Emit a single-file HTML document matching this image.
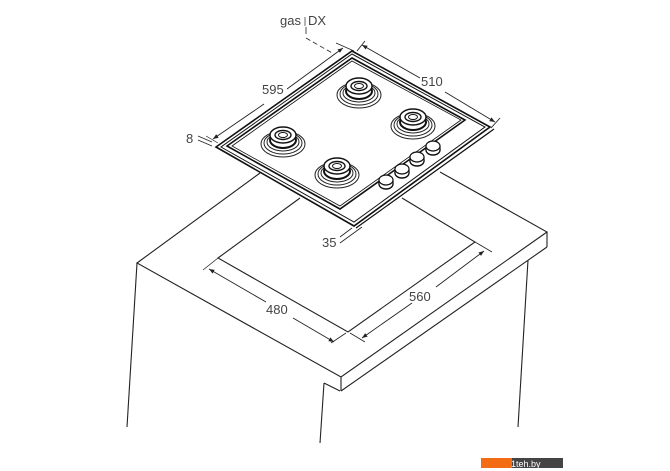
<!DOCTYPE html>
<html><head><meta charset="utf-8"><style>
html,body{margin:0;padding:0;background:#fff;width:670px;height:471px;overflow:hidden}
svg{display:block}
text{font-family:"Liberation Sans",sans-serif;fill:#444}
</style></head><body>
<svg width="670" height="471" viewBox="0 0 670 471" xmlns="http://www.w3.org/2000/svg">
<defs>
<marker id="ar" viewBox="0 0 10 10" refX="10" refY="5" markerWidth="6" markerHeight="6" orient="auto-start-reverse"><path d="M0,1 L10,5 L0,9 z" fill="#222"/></marker>
<g id="burner">
<ellipse cx="0" cy="9" rx="22" ry="13" fill="#fff" stroke="#222" stroke-width="1"/>
<ellipse cx="0" cy="8" rx="19" ry="11" fill="none" stroke="#222" stroke-width="1"/>
<ellipse cx="0" cy="7" rx="16" ry="9" fill="none" stroke="#222" stroke-width="1"/>
<ellipse cx="0" cy="5" rx="13" ry="8" fill="#fff" stroke="#111" stroke-width="2"/>
<ellipse cx="0" cy="0" rx="13" ry="8" fill="#fff" stroke="#111" stroke-width="1.4"/>
<ellipse cx="0" cy="0" rx="8" ry="4.5" fill="#fff" stroke="#111" stroke-width="1.4"/>
<ellipse cx="0" cy="0" rx="4.5" ry="2.5" fill="#fff" stroke="#111" stroke-width="1"/>
</g>
<g id="knob">
<ellipse cx="0" cy="4" rx="7" ry="5" fill="#fff" stroke="#111" stroke-width="1.4"/>
<rect x="-7" y="0" width="14" height="4" fill="#fff"/>
<line x1="-7" y1="0" x2="-7" y2="4" stroke="#111" stroke-width="1.2"/>
<line x1="7" y1="0" x2="7" y2="4" stroke="#111" stroke-width="1.2"/>
<ellipse cx="0" cy="0" rx="7" ry="5" fill="#fff" stroke="#111" stroke-width="1.2"/>
</g>
</defs>
<g stroke="#222" stroke-width="1.1" fill="none">
<polyline points="260,173 137,263 341,377 547,232 440,172"/>
<line x1="341" y1="377" x2="341" y2="391"/>
<line x1="547" y1="232" x2="547" y2="247"/>
<polyline points="341,391 547,247"/>
<line x1="137" y1="263" x2="127" y2="427"/>
<line x1="528" y1="260" x2="518" y2="427"/>
<polyline points="324,383 340,391"/>
<line x1="324" y1="383" x2="320" y2="443"/>
<polyline points="300,198 218,258 348,332 475,242 402,198"/>
<line x1="203" y1="270" x2="218" y2="258" stroke-width="0.8"/>
<line x1="331" y1="343" x2="346" y2="333" stroke-width="0.8"/>
<line x1="209" y1="269" x2="266" y2="302" stroke-width="0.9" marker-start="url(#ar)"/>
<line x1="293" y1="318" x2="334" y2="342" stroke-width="0.9" marker-end="url(#ar)"/>
<line x1="350" y1="333" x2="365" y2="342" stroke-width="0.8"/>
<line x1="475" y1="242" x2="492" y2="252" stroke-width="0.8"/>
<line x1="362" y1="338" x2="412" y2="303" stroke-width="0.9" marker-start="url(#ar)"/>
<line x1="436" y1="287" x2="484" y2="251" stroke-width="0.9" marker-end="url(#ar)"/>
</g>
<g stroke="#111" fill="#fff">
<polygon points="352,51 490,127 354,226 216,147" stroke-width="1.6"/>
<polygon points="352,54 485,127 354,222 221,147" stroke-width="1" fill="none"/>
<polygon points="352,58 465,120 340,209 227,146" stroke-width="1.6"/>
<polygon points="352,61 461,120 340,206 232,146" stroke-width="0.8" fill="none"/>
<polyline points="356,228 494,129" fill="none" stroke-width="1.2"/>
<line x1="388" y1="205" x2="490" y2="132" stroke-width="1"/>
</g>
<use href="#burner" x="359" y="86"/>
<use href="#burner" x="413" y="117"/>
<use href="#burner" x="283" y="135"/>
<use href="#burner" x="337" y="166"/>
<use href="#knob" x="386" y="180"/>
<use href="#knob" x="402" y="169"/>
<use href="#knob" x="417" y="157"/>
<use href="#knob" x="433" y="146"/>
<g stroke="#222" stroke-width="0.9" fill="none">
<line x1="213" y1="139" x2="264" y2="104" marker-start="url(#ar)"/>
<line x1="287" y1="89" x2="343" y2="48" marker-end="url(#ar)"/>
<line x1="336" y1="43" x2="354" y2="51" stroke-width="0.7"/>
<line x1="206" y1="136" x2="218" y2="143" stroke-width="0.7"/>
<line x1="362" y1="45" x2="420" y2="78" marker-start="url(#ar)"/>
<line x1="445" y1="92" x2="495" y2="122" marker-end="url(#ar)"/>
<line x1="357" y1="51" x2="365" y2="41"/>
<line x1="491" y1="128" x2="500" y2="118"/>
<line x1="198" y1="136" x2="212" y2="142" stroke-width="0.8"/>
<line x1="198" y1="140" x2="212" y2="146" stroke-width="0.8"/>
<line x1="340" y1="237" x2="352" y2="228" stroke-width="0.8"/>
<line x1="340" y1="243" x2="362" y2="227" stroke-width="0.8"/>
<line x1="306" y1="27" x2="306" y2="34" stroke-width="0.8"/>
<path d="M306,38 L334,54" stroke-dasharray="5,3" stroke-width="0.8"/>
</g>
<g font-size="13">
<text x="262" y="94">595</text>
<text x="421" y="86">510</text>
<text x="186" y="143">8</text>
<text x="322" y="247">35</text>
<text x="266" y="314">480</text>
<text x="409" y="301">560</text>
<text x="280" y="25">gas</text>
<text x="308" y="25">DX</text>
</g>
<line x1="305" y1="17" x2="305" y2="26" stroke="#444" stroke-width="0.8"/>
<rect x="481" y="458" width="31" height="10" fill="#f36b12"/>
<rect x="512" y="458" width="51" height="10" fill="#444"/>
<text x="511" y="467" font-size="9" style="fill:#fff">1teh.by</text>
</svg>
</body></html>
